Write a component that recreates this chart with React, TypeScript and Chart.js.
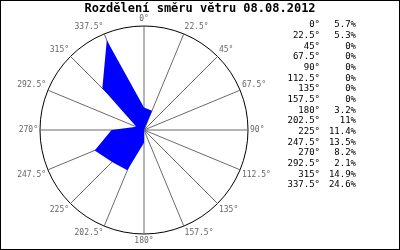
import React, { useEffect, useRef } from 'react';
import { Chart, registerables } from 'chart.js';

Chart.register(...registerables);

const directions = ['0°', '22.5°', '45°', '67.5°', '90°', '112.5°', '135°', '157.5°', '180°', '202.5°', '225°', '247.5°', '270°', '292.5°', '315°', '337.5°'];
const values = [5.7, 5.3, 0, 0, 0, 0, 0, 0, 3.2, 11, 11.4, 13.5, 8.2, 2.1, 14.9, 24.6];
const titleText = 'Rozdělení směru větru 08.08.2012';
const radialMax = 26.3;

const MONO = '"DejaVu Sans Mono", "Liberation Mono", monospace';

const decorPlugin = {
  id: 'decor',
  afterDraw(chart: any) {
    const ctx = chart.ctx as CanvasRenderingContext2D;
    ctx.save();
    // frame
    ctx.strokeStyle = '#000';
    ctx.lineWidth = 1;
    ctx.strokeRect(0.5, 0.5, chart.width - 1, chart.height - 1);
    // title
    ctx.fillStyle = '#000';
    ctx.font = `bold 12px ${MONO}`;
    ctx.textAlign = 'center';
    ctx.textBaseline = 'middle';
    ctx.fillText(titleText, 200, 8.5);
    // legend table
    ctx.font = `9px ${MONO}`;
    ctx.textBaseline = 'middle';
    directions.forEach((d, i) => {
      const y = 25 + i * 10.67;
      ctx.textAlign = 'right';
      ctx.fillText(d, 320, y);
      ctx.fillText(String(values[i]) + '%', 356, y);
    });
    ctx.restore();
  },
};

export default function App() {
  const ref = useRef<HTMLCanvasElement | null>(null);
  useEffect(() => {
    document.body.style.margin = '0';
    const canvas = ref.current;
    if (!canvas) return;
    const chart = new Chart(canvas, {
      type: 'radar',
      data: {
        labels: directions,
        datasets: [
          {
            data: values,
            backgroundColor: '#0000ff',
            borderColor: '#0000ff',
            borderWidth: 0,
            fill: true,
            pointRadius: 0,
            pointHoverRadius: 0,
          },
        ],
      },
      options: {
        responsive: false,
        animation: false,
        devicePixelRatio: 1,
        layout: { padding: { top: 14.4, bottom: 4, left: 0, right: 112 } },
        plugins: {
          legend: { display: false },
          title: { display: false },
          tooltip: { enabled: false },
        },
        scales: {
          r: {
            min: 0,
            max: radialMax,
            ticks: { display: false, stepSize: radialMax },
            grid: { color: '#000', lineWidth: 1, circular: true },
            angleLines: { color: '#6a6a6a', lineWidth: 1 },
            pointLabels: {
              font: { family: MONO, size: 8 },
              color: '#666',
              padding: 2,
            },
          },
        },
      },
      plugins: [decorPlugin],
    });
    return () => chart.destroy();
  }, []);
  return (
    <div style={{ position: 'fixed', left: 0, top: 0, width: 400, height: 250, background: '#fff' }}>
      <canvas ref={ref} width={400} height={250} style={{ display: 'block' }} />
    </div>
  );
}
